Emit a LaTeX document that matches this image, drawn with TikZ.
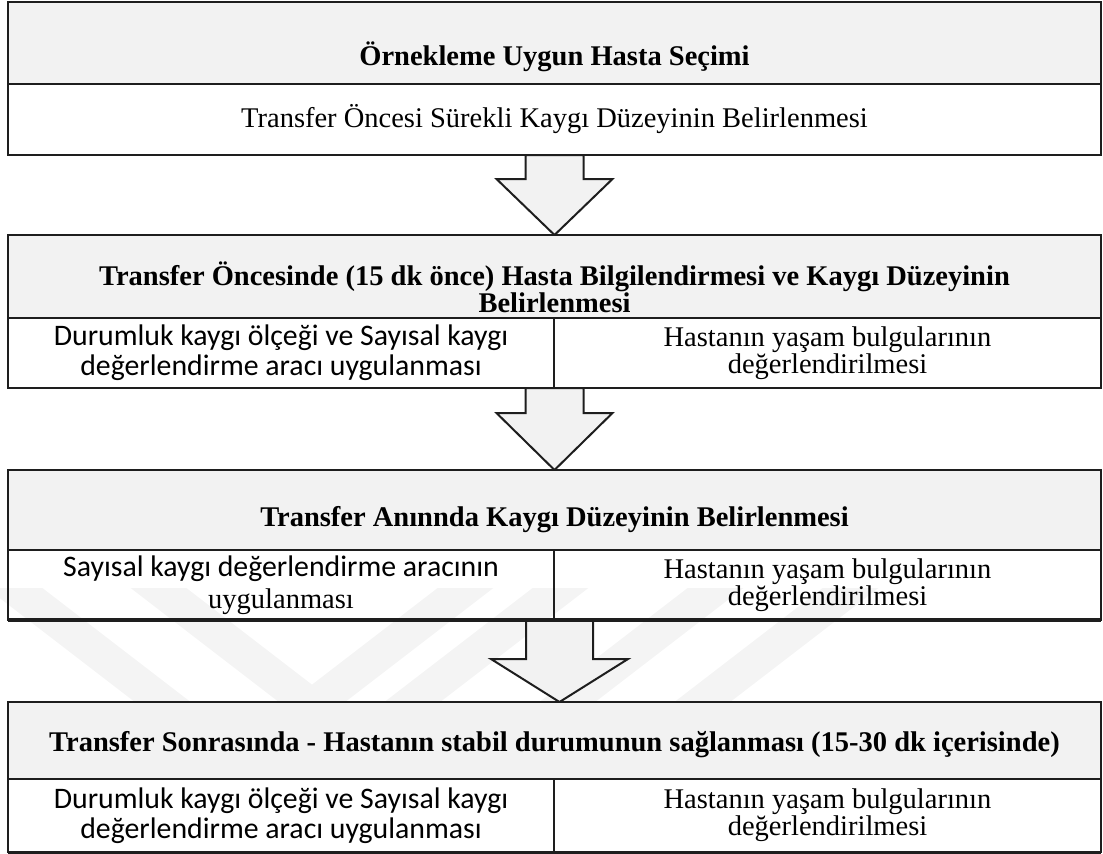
\documentclass[tikz,border=0pt]{standalone}
\usepackage{fontspec}
\setmainfont{Liberation Serif}
\newfontfamily\calibri{Carlito}
\definecolor{headgray}{HTML}{F2F2F2}
\definecolor{markgray}{HTML}{F4F4F4}
\definecolor{linegray}{HTML}{1E1E1E}
\usetikzlibrary{positioning,backgrounds,calc}
\tikzstyle{head}=[draw=linegray,line width=2pt,fill=headgray,outer sep=0pt,
  inner sep=0pt,minimum width=1093pt]
\tikzstyle{headtext}=[align=center,font=\fontsize{28.5}{27}\selectfont\bfseries]
\tikzstyle{rowbox}=[draw=linegray,line width=2pt,outer sep=0pt,inner sep=0pt,
  align=center,font=\fontsize{28.5}{27}\selectfont]
\tikzstyle{calibrirow}=[rowbox,font=\fontsize{29.8}{30}\selectfont\calibri]
\tikzstyle{arrowbox}=[draw=linegray,line width=2pt,fill=headgray,line join=miter]
\newcommand{\flowarrow}[5]{%
  \draw[arrowbox] let \p1=(#1), \p2=(#2) in
    (\x2-#3,\y1) -- (\x2-#3,\y2+#5) -- (\x2-#4,\y2+#5) -- (\x2,\y2)
    -- (\x2+#4,\y2+#5) -- (\x2+#3,\y2+#5) -- (\x2+#3,\y1) -- cycle;}

\begin{document}
\begin{tikzpicture}[x=1pt,y=-1pt]
  \useasboundingbox (0,0) rectangle (1103,854);

  % step 1
  \node[head, minimum height=82pt] (h1) at (554.5,43) {};
  \node[headtext] (t1) at ([yshift=-14pt]h1.center) {Örnekleme Uygun Hasta Seçimi};
  \node[rowbox, minimum width=1093pt, minimum height=71pt, below=0pt of h1] (r1)
    {Transfer Öncesi Sürekli Kaygı Düzeyinin Belirlenmesi};

  % step 2
  \node[head, minimum height=83pt, below=80pt of r1] (h2) {};
  \node[headtext] (t2) at ([yshift=-11pt]h2.center)
    {Transfer Öncesinde (15 dk önce) Hasta Bilgilendirmesi ve Kaygı Düzeyinin\\Belirlenmesi};
  \node[calibrirow, minimum width=546pt, minimum height=70pt,
    below right=0pt of h2.south west] (l2)
    {Durumluk kaygı ölçeği ve Sayısal kaygı\\değerlendirme aracı uygulanması};
  \node[rowbox, minimum width=547pt, minimum height=70pt, right=0pt of l2] (c2)
    {Hastanın yaşam bulgularının\\değerlendirilmesi};

  % step 3
  \node[head, minimum height=80pt, below=82pt of h2.south |- l2.south] (h3) {};
  \node[headtext] (t3) at ([yshift=-10pt]h3.center)
    {Transfer Anınnda Kaygı Düzeyinin Belirlenmesi};
  \node[rowbox, font=\fontsize{29.8}{32}\selectfont, minimum width=546pt, minimum height=70pt,
    below right=0pt of h3.south west] (l3)
    {{\calibri Sayısal kaygı değerlendirme aracının}\\{\fontsize{28.5}{32}\selectfont uygulanması}};
  \node[rowbox, minimum width=547pt, minimum height=70pt, right=0pt of l3] (c3)
    {Hastanın yaşam bulgularının\\değerlendirilmesi};
  \draw[linegray, line width=3.5pt] (l3.south west) -- (c3.south east);

  % step 4
  \node[head, minimum height=77pt, below=82pt of h3.south |- l3.south] (h4) {};
  \node[headtext] (t4) at ([yshift=-4pt]h4.center)
    {Transfer Sonrasında - Hastanın stabil durumunun sağlanması (15-30 dk içerisinde)};
  \node[calibrirow, minimum width=546pt, minimum height=73pt,
    below right=0pt of h4.south west] (l4)
    {Durumluk kaygı ölçeği ve Sayısal kaygı\\değerlendirme aracı uygulanması};
  \node[rowbox, minimum width=547pt, minimum height=73pt, right=0pt of l4] (c4)
    {Hastanın yaşam bulgularının\\değerlendirilmesi};
  \draw[linegray, line width=3pt] (l4.south west) -- (c4.south east);

  \begin{scope}[on background layer]
    % faint watermark
    \begin{scope}
      \clip (0,588) rectangle (1103,702);
      \foreach \xc in {60,204}
        \draw[markgray, line width=34pt] (\xc-130,523) -- (\xc+390,923);
      \foreach \xc in {420,515,670,805}
        \draw[markgray, line width=34pt] (\xc+130,523) -- (\xc-390,923);
    \end{scope}
    \flowarrow{r1.south}{h2.north}{29pt}{58pt}{56pt}
    \flowarrow{h2.south |- l2.south}{h3.north}{29pt}{58pt}{57pt}
    \flowarrow{h3.south |- l3.south}{[xshift=5pt]h4.north}{33.5pt}{68.5pt}{43pt}
  \end{scope}
\end{tikzpicture}
\end{document}
